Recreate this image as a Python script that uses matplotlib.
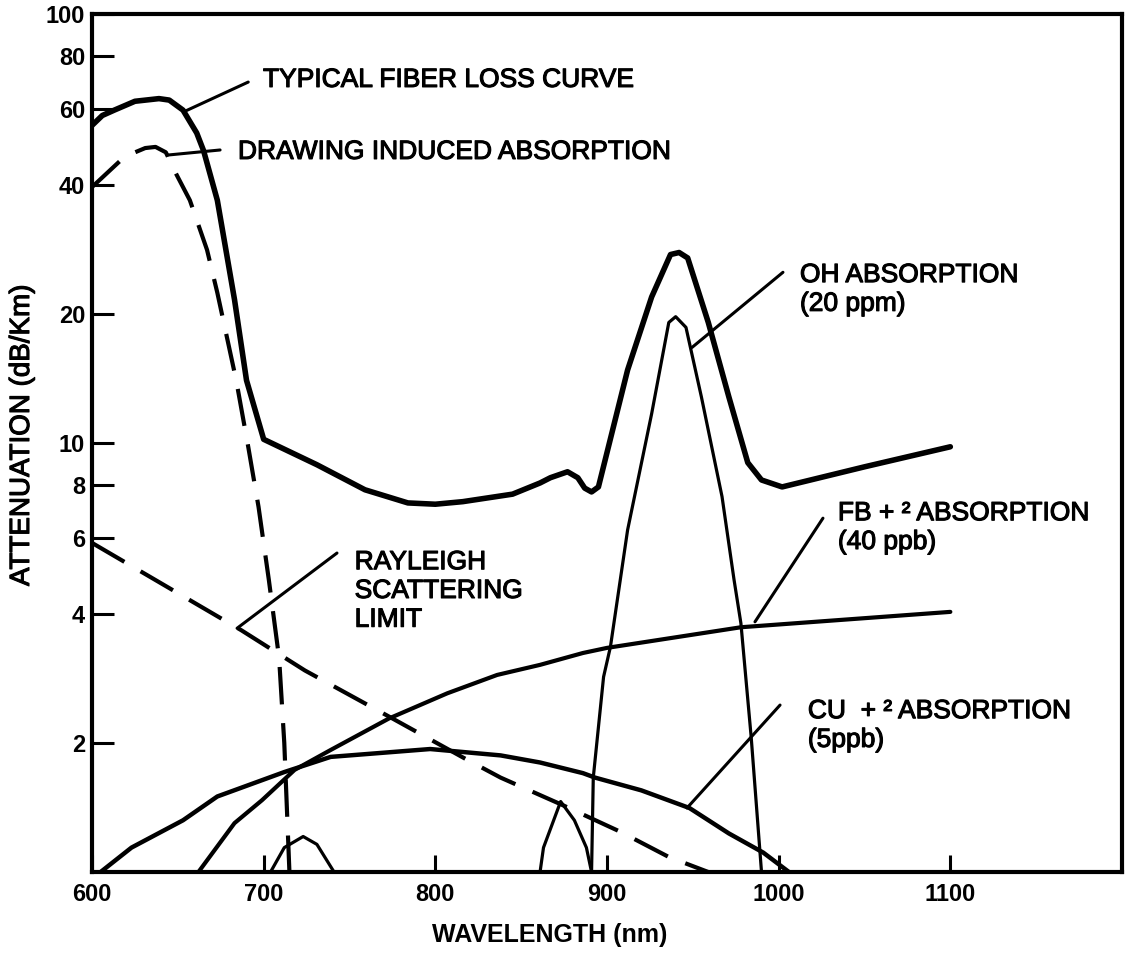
import matplotlib
matplotlib.use("Agg")
import matplotlib.pyplot as plt
import matplotlib.patheffects as pe
from matplotlib.ticker import NullLocator

# Police proche de l'original (Helvetica)
plt.rcParams['font.family'] = ['Liberation Sans', 'DejaVu Sans']

# Courbe de perte typique de la fibre
lambdaFibre = [600, 606, 613, 625, 639, 645, 653, 661, 665, 673, 683, 690, 700, 731, 759, 784, 800, 816, 845, 861,
               867, 877, 883, 887, 891, 895, 912, 926, 937, 942, 947, 959, 971, 982, 990, 1002, 1050, 1100]
perteFibre = [55, 58, 59.7, 62.6, 63.5, 63, 59.7, 52.8, 48, 36.8, 21.6, 14, 10.2, 8.9, 7.78, 7.25, 7.2, 7.3, 7.6, 8.07,
              8.3, 8.57, 8.3, 7.85, 7.69, 7.9, 14.8, 21.9, 27.5, 27.8, 27, 19.1, 12.8, 9.0, 8.2, 7.9, 8.8, 9.8]

# Absorption induite par le tirage
lambdaTirage = [600, 619, 631, 637, 643, 649, 657, 667, 673, 684, 691, 697, 703, 709, 712, 715]
perteTirage = [39.5, 46.5, 48.7, 49, 47.6, 42.4, 36.8, 28.2, 22.4, 14, 9.8, 7.1, 4.8, 3.15, 2.0, 1.0]

# Limite de diffusion Rayleigh
lambdaRayleigh = [600, 687, 724, 775, 816, 838, 874, 908, 936, 959]
perteRayleigh = [5.85, 3.66, 2.95, 2.28, 1.85, 1.66, 1.433, 1.24, 1.084, 1.0]

# Absorption FB+2 (40 ppb)
lambdaFB = [662, 683, 699, 718, 739, 773, 807, 836, 861, 886, 900, 978, 1100]
perteFB = [1.0, 1.30, 1.47, 1.73, 1.925, 2.28, 2.61, 2.88, 3.04, 3.24, 3.33, 3.72, 4.04]

# Absorption CU+2 (5 ppb)
lambdaCU = [605, 623, 653, 673, 712, 739, 797, 822, 838, 861, 886, 893, 920, 948, 971, 991, 1006]
perteCU = [1.0, 1.14, 1.32, 1.50, 1.71, 1.855, 1.935, 1.895, 1.87, 1.8, 1.70, 1.66, 1.55, 1.41, 1.23, 1.11, 1.0]

# Absorption OH (20 ppm) : deux petits pics et le grand pic
lambdaOH1 = [704, 712, 723, 731, 741]
perteOH1 = [1.0, 1.14, 1.21, 1.16, 1.0]
lambdaOH2 = [861, 863, 873, 881, 888, 891]
perteOH2 = [1.0, 1.14, 1.46, 1.32, 1.14, 1.0]
lambdaOH = [891, 892, 898, 902, 912, 926, 936, 940, 946, 955, 967, 974, 978, 984, 990]
perteOH = [1.0, 1.66, 2.85, 3.35, 6.27, 11.7, 19.1, 19.7, 18.6, 12.8, 7.5, 4.8, 3.8, 2.06, 1.0]

# Graduations
ticksX = [600, 700, 800, 900, 1000, 1100]
ticksY = [2, 4, 6, 8, 10, 20, 40, 60, 80, 100]

fig = plt.figure(figsize=(11.29, 9.59), dpi=100)
ax = fig.add_axes([0.0815, 0.0907, 0.9123, 0.8947])
ax.set_yscale('log')
ax.set_xlim(600, 1200)
ax.set_ylim(1, 100)

noir = 'black'
ax.plot(lambdaFibre, perteFibre, color=noir, linewidth=4, solid_capstyle='round', solid_joinstyle='round')
ax.plot(lambdaTirage, perteTirage, color=noir, linewidth=3, linestyle=(0, (9, 4.5)))
ax.plot(lambdaRayleigh, perteRayleigh, color=noir, linewidth=3, linestyle=(0, (9, 4.5)))
ax.plot(lambdaFB, perteFB, color=noir, linewidth=3, solid_capstyle='round', solid_joinstyle='round')
ax.plot(lambdaCU, perteCU, color=noir, linewidth=3.2, solid_capstyle='round', solid_joinstyle='round')
for lx, ly in [(lambdaOH1, perteOH1), (lambdaOH2, perteOH2), (lambdaOH, perteOH)]:
    ax.plot(lx, ly, color=noir, linewidth=2.3, solid_joinstyle='round')

# Cadre
for s in ax.spines.values():
    s.set_linewidth(3)

# Trait un peu plus gras, comme sur le document scanne
gras = [pe.withStroke(linewidth=0.8, foreground=noir)]

# Axes et graduations
ax.set_xticks(ticksX)
ax.set_xticklabels([str(t) for t in ticksX], fontsize=17, fontweight='bold')
ax.set_yticks(ticksY)
ax.set_yticklabels([str(t) for t in ticksY], fontsize=17, fontweight='bold')
ax.yaxis.set_minor_locator(NullLocator())
ax.xaxis.set_minor_locator(NullLocator())
ax.tick_params(axis='x', direction='in', length=12, width=2.2, pad=8)
ax.tick_params(axis='y', direction='in', length=16, width=2.2, pad=5)

ax.set_xlabel('WAVELENGTH (nm)', fontsize=18, fontweight='bold', va='center')
ax.xaxis.set_label_coords(0.4447, -0.0734)
ax.set_ylabel('ATTENUATION (dB/Km)', fontsize=20, va='center', path_effects=gras)
ax.yaxis.set_label_coords(-0.068, 0.509)

# Textes et traits de rappel
def rappel(xy, fin, texte, pos):
    ax.annotate('', xy=xy, xytext=fin,
                arrowprops=dict(arrowstyle='-', color=noir, lw=2.2, shrinkA=0, shrinkB=0))
    ax.text(pos[0], pos[1], texte, fontsize=19, ha='left', va='center', linespacing=1.25,
            path_effects=gras)

rappel((654, 59.3), (691, 69.4), 'TYPICAL FIBER LOSS CURVE', (699.6, 70.2))
rappel((644, 46.9), (674.6, 48.2), 'DRAWING INDUCED ABSORPTION', (685, 47.7))
rappel((684.5, 3.70), (742.7, 5.54), 'RAYLEIGH\nSCATTERING\nLIMIT', (753, 4.52))
rappel((949.5, 16.7), (1002.5, 25.0), 'OH ABSORPTION\n(20 ppm)', (1012.4, 22.8))
rappel((986.2, 3.83), (1025.8, 6.68), 'FB + \u00b2 ABSORPTION\n(40 ppb)', (1034.5, 6.35))
rappel((946.6, 1.41), (1000.8, 2.45), 'CU  + \u00b2 ABSORPTION\n(5ppb)', (1017, 2.195))

plt.savefig('out.png', dpi=100)
